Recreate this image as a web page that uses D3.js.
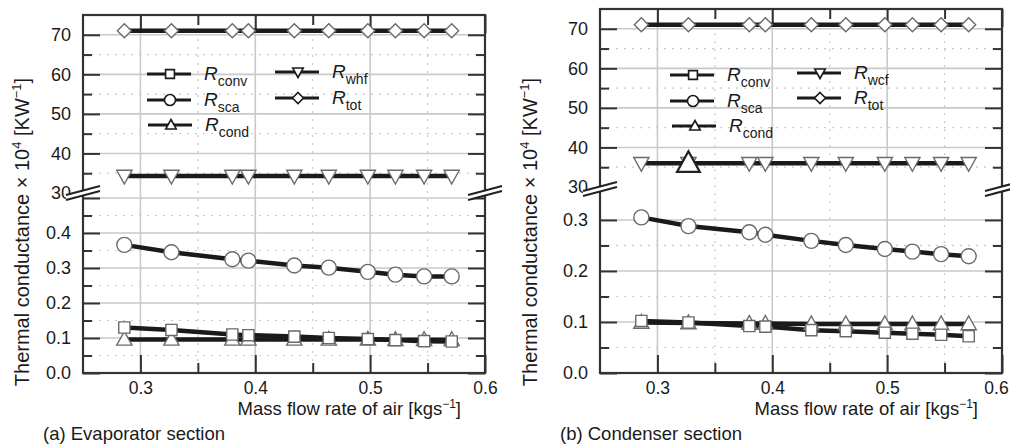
<!DOCTYPE html>
<html>
<head>
<meta charset="utf-8">
<script src="https://cdn.jsdelivr.net/npm/d3@7"></script>
<style>
  html, body { margin: 0; padding: 0; background: #fff; }
  svg { display: block; font-family: "Liberation Sans", Arial, sans-serif; }
</style>
</head>
<body>
<svg class="chart-svg" width="1010" height="444"></svg>
<script>
// mass flow rate of air [kg/s], shared by both sections
const massFlow = [0.286, 0.327, 0.380, 0.394, 0.434, 0.464, 0.498, 0.522, 0.547, 0.571];

// (a) evaporator section, thermal conductance x 10^4
const evapConv = [0.130, 0.123, 0.110, 0.108, 0.104, 0.100, 0.097, 0.094, 0.091, 0.090];
const evapSca  = [0.366, 0.345, 0.325, 0.321, 0.307, 0.301, 0.289, 0.281, 0.276, 0.276];
const evapCond = [0.096, 0.096, 0.096, 0.096, 0.096, 0.096, 0.096, 0.095, 0.095, 0.095];
const evapWhf  = [34.3, 34.3, 34.3, 34.3, 34.3, 34.3, 34.3, 34.3, 34.3, 34.3];
const evapTot  = [71.0, 71.0, 71.0, 71.0, 71.0, 71.0, 71.0, 71.0, 71.0, 71.0];

// (b) condenser section
const condConv = [0.102, 0.099, 0.092, 0.091, 0.084, 0.082, 0.079, 0.077, 0.075, 0.072];
const condSca  = [0.305, 0.288, 0.276, 0.271, 0.259, 0.251, 0.243, 0.238, 0.233, 0.229];
const condCond = [0.099, 0.098, 0.097, 0.097, 0.096, 0.096, 0.096, 0.096, 0.096, 0.096];
const condWcf  = [36.0, 36.0, 36.0, 36.0, 36.0, 36.0, 36.0, 36.0, 36.0, 36.0];
const condTot  = [71.0, 71.0, 71.0, 71.0, 71.0, 71.0, 71.0, 71.0, 71.0, 71.0];
const condStray = [[0.327, 36.0]];   // the large triangle sitting on the R_wcf line

const xTickLabels = ["0.3", "0.4", "0.5", "0.6"];
const upperTickLabels = ["30", "40", "50", "60", "70"];
const evapLowerTickLabels = ["0.0", "0.1", "0.2", "0.3", "0.4"];
const condLowerTickLabels = ["0.0", "0.1", "0.2", "0.3"];

const svg = d3.select(".chart-svg");

function markerPath(type, s) {
    const p = d3.path();
    if (type === "circle") {
        p.moveTo(s, 0); p.arc(0, 0, s, 0, 2 * Math.PI);
    } else if (type === "square") {
        p.rect(-s * 0.8, -s * 0.8, s * 1.6, s * 1.6);
    } else if (type === "triUp") {
        p.moveTo(0, -s); p.lineTo(s * 0.95, s * 0.72); p.lineTo(-s * 0.95, s * 0.72); p.closePath();
    } else if (type === "triDown") {
        p.moveTo(0, s); p.lineTo(s * 0.95, -s * 0.72); p.lineTo(-s * 0.95, -s * 0.72); p.closePath();
    } else if (type === "diamond") {
        p.moveTo(0, -s); p.lineTo(s, 0); p.lineTo(0, s); p.lineTo(-s, 0); p.closePath();
    }
    return p.toString();
}

function subLabel(sel, sub) {
    const t = sel.append("text").attr("font-size", 19).attr("fill", "#1a1a1a");
    t.append("tspan").attr("font-style", "italic").text("R");
    t.append("tspan").attr("font-size", 14).attr("dy", 6).text(sub);
    return t;
}

function drawPanel(cfg) {
    const g = svg.append("g");
    const x = d3.scaleLinear().domain([0.25, 0.6]).range([cfg.x0, cfg.x1]);
    const yUp = d3.scaleLinear().domain([30, 75]).range(cfg.upperRange);
    const yLo = d3.scaleLinear().domain([0, cfg.lowerMax]).range([cfg.bottom, cfg.lowerTop]);

    const upMajor = [30, 40, 50, 60, 70];
    const upMinor = [35, 45, 55, 65];
    const loMajor = d3.range(0, cfg.lowerMax + 1e-9, 0.1);
    const loMinor = d3.range(0.05, cfg.lowerMax, 0.1);
    const xMajor = [0.3, 0.4, 0.5, 0.6];
    const xMinor = [0.35, 0.45, 0.55];

    // grid
    const grid = g.append("g");
    xMajor.slice(0, 3).forEach(v => grid.append("line")
        .attr("x1", x(v)).attr("x2", x(v)).attr("y1", cfg.top).attr("y2", cfg.bottom)
        .attr("stroke", "#c9c9c9").attr("stroke-width", 1.6));
    xMinor.forEach(v => grid.append("line")
        .attr("x1", x(v)).attr("x2", x(v)).attr("y1", cfg.top).attr("y2", cfg.bottom)
        .attr("stroke", "#c9c9c9").attr("stroke-width", 1.2).attr("stroke-dasharray", "2,6"));
    upMajor.slice(1).forEach(v => grid.append("line")
        .attr("x1", cfg.x0).attr("x2", cfg.x1).attr("y1", yUp(v)).attr("y2", yUp(v))
        .attr("stroke", "#c9c9c9").attr("stroke-width", 1.6));
    upMinor.forEach(v => grid.append("line")
        .attr("x1", cfg.x0).attr("x2", cfg.x1).attr("y1", yUp(v)).attr("y2", yUp(v))
        .attr("stroke", "#c9c9c9").attr("stroke-width", 1.2).attr("stroke-dasharray", "2,6"));
    loMajor.slice(1).forEach(v => grid.append("line")
        .attr("x1", cfg.x0).attr("x2", cfg.x1).attr("y1", yLo(v)).attr("y2", yLo(v))
        .attr("stroke", "#c9c9c9").attr("stroke-width", 1.6));
    loMinor.forEach(v => grid.append("line")
        .attr("x1", cfg.x0).attr("x2", cfg.x1).attr("y1", yLo(v)).attr("y2", yLo(v))
        .attr("stroke", "#c9c9c9").attr("stroke-width", 1.2).attr("stroke-dasharray", "2,6"));

    // axes: ticks point inward
    const axisStyle = (a, size = 18) => a.call(s => s.select(".domain").remove())
        .call(s => s.selectAll("line").attr("stroke", "#333").attr("stroke-width", 2))
        .call(s => s.selectAll("text").attr("font-size", size).attr("fill", "#1a1a1a")
            .attr("font-family", "Liberation Sans, Arial, sans-serif"));

    g.append("g").attr("transform", `translate(${cfg.x0},0)`)
        .call(d3.axisLeft(yUp).tickValues(upMajor.slice(1)).tickSize(-17).tickPadding(12)
            .tickFormat((d, i) => upperTickLabels[i + 1])).call(axisStyle);
    g.append("g").attr("transform", `translate(${cfg.x0},0)`)
        .call(d3.axisLeft(yUp).tickValues([30]).tickSize(0).tickPadding(12)
            .tickFormat(() => upperTickLabels[0])).call(axisStyle);
    g.append("g").attr("transform", `translate(${cfg.x0},0)`)
        .call(d3.axisLeft(yUp).tickValues(upMinor).tickSize(-9).tickFormat("")).call(axisStyle);
    g.append("g").attr("transform", `translate(${cfg.x0},0)`)
        .call(d3.axisLeft(yLo).tickValues(loMajor).tickSize(-17).tickPadding(12)
            .tickFormat((d, i) => cfg.lowerLabels[i])).call(axisStyle);
    g.append("g").attr("transform", `translate(${cfg.x0},0)`)
        .call(d3.axisLeft(yLo).tickValues(loMinor).tickSize(-9).tickFormat("")).call(axisStyle);

    g.append("g").attr("transform", `translate(${cfg.x1},0)`)
        .call(d3.axisRight(yUp).tickValues(upMajor.slice(1)).tickSize(-17).tickFormat("")).call(axisStyle);
    g.append("g").attr("transform", `translate(${cfg.x1},0)`)
        .call(d3.axisRight(yUp).tickValues(upMinor).tickSize(-9).tickFormat("")).call(axisStyle);
    g.append("g").attr("transform", `translate(${cfg.x1},0)`)
        .call(d3.axisRight(yLo).tickValues(loMajor).tickSize(-17).tickFormat("")).call(axisStyle);
    g.append("g").attr("transform", `translate(${cfg.x1},0)`)
        .call(d3.axisRight(yLo).tickValues(loMinor).tickSize(-9).tickFormat("")).call(axisStyle);

    const xAxisG = g.append("g").attr("transform", `translate(0,${cfg.bottom})`)
        .call(d3.axisBottom(x).tickValues(xMajor).tickSize(-18).tickPadding(9)
            .tickFormat((d, i) => xTickLabels[i])).call(a => axisStyle(a, 17.5));
    // keep the last label inside the page on the right-hand panel
    if (cfg.shiftLastX) {
        xAxisG.selectAll(".tick text").filter(d => d === 0.6).attr("dx", cfg.shiftLastX);
    }
    g.append("g").attr("transform", `translate(0,${cfg.bottom})`)
        .call(d3.axisBottom(x).tickValues(xMinor).tickSize(-10).tickFormat("")).call(axisStyle);
    g.append("g").attr("transform", `translate(0,${cfg.top})`)
        .call(d3.axisTop(x).tickValues(xMajor).tickSize(-18).tickFormat("")).call(axisStyle);
    g.append("g").attr("transform", `translate(0,${cfg.top})`)
        .call(d3.axisTop(x).tickValues(xMinor).tickSize(-10).tickFormat("")).call(axisStyle);

    // frame
    g.append("rect").attr("x", cfg.x0).attr("y", cfg.top)
        .attr("width", cfg.x1 - cfg.x0).attr("height", cfg.bottom - cfg.top)
        .attr("fill", "none").attr("stroke", "#333").attr("stroke-width", 2.2);

    // axis break marks
    [cfg.x0, cfg.x1].forEach(ax => {
        const by = cfg.breakY;
        g.append("path")
            .attr("d", `M${ax - 17},${by + 5} L${ax + 17},${by - 4} L${ax + 17},${by + 1} L${ax - 17},${by + 10}Z`)
            .attr("fill", "#fff");
        [0, 5].forEach(o => g.append("line")
            .attr("x1", ax - 17).attr("y1", by + 5 + o).attr("x2", ax + 17).attr("y2", by - 4 + o)
            .attr("stroke", "#222").attr("stroke-width", 2));
    });

    // series
    const line = d3.line().x(d => x(d[0])).y(d => d[1]);
    cfg.series.forEach(s => {
        const y = s.upper ? yUp : yLo;
        const pts = massFlow.map((m, i) => [m, y(s.values[i])]);
        g.append("path").attr("d", line(pts)).attr("fill", "none")
            .attr("stroke", "#1a1a1a").attr("stroke-width", 4.5);
    });
    cfg.series.forEach(s => {
        const y = s.upper ? yUp : yLo;
        g.append("g").selectAll("path").data(massFlow.map((m, i) => [m, s.values[i]])).join("path")
            .attr("transform", d => `translate(${x(d[0])},${y(d[1])})`)
            .attr("d", markerPath(s.marker, s.size))
            .attr("fill", "#fff").attr("stroke", "#6a6a6a").attr("stroke-width", 1.4);
    });
    (cfg.stray || []).forEach(d => {
        g.append("path").attr("transform", `translate(${x(d[0])},${yUp(d[1])})`)
            .attr("d", markerPath("triUp", 12))
            .attr("fill", "#fff").attr("stroke", "#222").attr("stroke-width", 2.2);
    });

    // legend
    cfg.legend.forEach(l => {
        const lg = g.append("g").attr("transform", `translate(${l.x},${l.y})`);
        lg.append("line").attr("x1", 0).attr("x2", 44).attr("stroke", "#1a1a1a").attr("stroke-width", 3);
        lg.append("path").attr("transform", "translate(23,0)").attr("d", markerPath(l.marker, 5.5))
            .attr("fill", "#fff").attr("stroke", "#1a1a1a").attr("stroke-width", 1.6);
        subLabel(lg, l.sub).attr("x", 57).attr("y", 6);
    });

    // titles
    const yl = g.append("text").attr("font-size", 20).attr("fill", "#1a1a1a")
        .attr("text-anchor", "middle")
        .attr("transform", `translate(${cfg.yLabelX},${cfg.yLabelY}) rotate(-90)`);
    yl.append("tspan").text("Thermal conductance × 10");
    yl.append("tspan").attr("font-size", 13).attr("dy", -8).text("4");
    yl.append("tspan").attr("dy", 8).text(" [KW");
    yl.append("tspan").attr("font-size", 13).attr("dy", -8).text("−1");
    yl.append("tspan").attr("dy", 8).text("]");

    const xl = g.append("text").attr("font-size", 18.5).attr("fill", "#1a1a1a")
        .attr("text-anchor", "end").attr("x", cfg.x1 - 24).attr("y", 415);
    xl.append("tspan").text("Mass flow rate of air [kgs");
    xl.append("tspan").attr("font-size", 12).attr("dy", -7).text("−1");
    xl.append("tspan").attr("dy", 7).text("]");

    g.append("text").attr("font-size", 18.5).attr("fill", "#1a1a1a")
        .attr("x", cfg.x0 - 40).attr("y", 440).text(cfg.caption);
}

drawPanel({
    x0: 83, x1: 485, top: 15, bottom: 373,
    upperRange: [193, 15], lowerMax: 0.5, lowerTop: 198, breakY: 190,
    lowerLabels: evapLowerTickLabels, yLabelX: 29, yLabelY: 232,
    caption: "(a) Evaporator section",
    series: [
        { values: evapTot, upper: true, marker: "diamond", size: 7 },
        { values: evapWhf, upper: true, marker: "triDown", size: 8 },
        { values: evapSca, upper: false, marker: "circle", size: 7.5 },
        { values: evapCond, upper: false, marker: "triUp", size: 8 },
        { values: evapConv, upper: false, marker: "square", size: 7 }
    ],
    legend: [
        { x: 147, y: 74, marker: "square", sub: "conv" },
        { x: 147, y: 100, marker: "circle", sub: "sca" },
        { x: 148, y: 125, marker: "triUp", sub: "cond" },
        { x: 275, y: 72, marker: "triDown", sub: "whf" },
        { x: 275, y: 98, marker: "diamond", sub: "tot" }
    ]
});

drawPanel({
    x0: 600, x1: 1002, top: 9, bottom: 373,
    upperRange: [187, 9], lowerMax: 0.345, lowerTop: 197, breakY: 186,
    lowerLabels: condLowerTickLabels, yLabelX: 537, yLabelY: 232,
    caption: "(b) Condenser section",
    shiftLastX: -6,
    stray: condStray,
    series: [
        { values: condTot, upper: true, marker: "diamond", size: 7 },
        { values: condWcf, upper: true, marker: "triDown", size: 8 },
        { values: condSca, upper: false, marker: "circle", size: 7.5 },
        { values: condCond, upper: false, marker: "triUp", size: 8 },
        { values: condConv, upper: false, marker: "square", size: 7 }
    ],
    legend: [
        { x: 670, y: 75, marker: "square", sub: "conv" },
        { x: 670, y: 101, marker: "circle", sub: "sca" },
        { x: 672, y: 126, marker: "triUp", sub: "cond" },
        { x: 797, y: 73, marker: "triDown", sub: "wcf" },
        { x: 797, y: 98, marker: "diamond", sub: "tot" }
    ]
});
</script>
</body>
</html>
